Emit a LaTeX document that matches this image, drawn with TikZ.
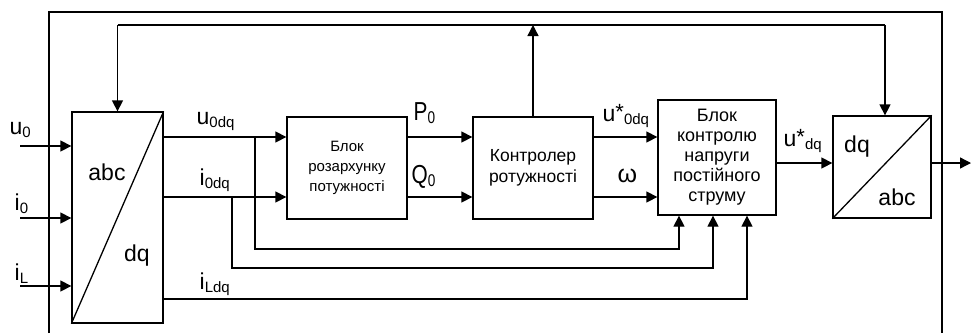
\documentclass[tikz,border=0pt]{standalone}
\usepackage{fontspec}
\setmainfont{Liberation Sans}
\usetikzlibrary{arrows.meta}

% signal name: letter, raised mark, subscript
\newcommand{\sig}[3]{{\fontsize{23}{25}\selectfont #1}%
  \raisebox{2pt}{\fontsize{22}{22}\selectfont #2}%
  \raisebox{-3pt}{\fontsize{15}{16}\selectfont #3}}
% tall narrow letters of P0, Q0
\newcommand{\pq}[1]{\scalebox{0.8}[1]{{\fontsize{26}{27}\selectfont #1}%
  \raisebox{-3pt}{\fontsize{17}{18}\selectfont 0}}}

\begin{document}
\begin{tikzpicture}[
  x=1pt, y=-1pt,
  line width=1.3pt,
  blk/.style={draw, line width=1.3pt, align=center, inner sep=2pt},
  txt/.style={font=\fontsize{23}{25}\selectfont, inner sep=0pt},
  lbl/.style={anchor=base west, inner sep=0pt},
  arr/.style={-{Triangle[length=11pt, width=11pt]}},
]
  \useasboundingbox (0,0) rectangle (972,333);

  % outer frame, open at the bottom
  \draw (49,333) -- (49,12) -- (942,12) -- (942,333);

  % abc -> dq
  \node[blk, minimum width=91pt, minimum height=211pt] (abc) at (117.5,217.5) {};
  \draw (abc.south west) -- (abc.north east);
  \node[txt] (abct) at (107,172) {abc};
  \node[txt] (abcq) at (137,256) {dq};

  \node[blk, minimum width=120pt, minimum height=102pt,
        font=\fontsize{15}{20}\selectfont] (pwr) at (347,168)
    {Блок\\розархунку\\потужності};

  \node[blk, minimum width=120pt, minimum height=102pt,
        font=\fontsize{17.5}{21}\selectfont] (ctl) at (533,168)
    {Контролер\\ротужності};

  \node[blk, minimum width=118pt, minimum height=115pt,
        font=\fontsize{18}{20}\selectfont] (dcv) at (717,157.5)
    {Блок\\контролю\\напруги\\постійного\\струму};

  % dq -> abc
  \node[blk, minimum width=98pt, minimum height=102pt] (inv) at (882,167) {};
  \draw (inv.south west) -- (inv.north east);
  \node[txt] (invd) at (857,147) {dq};
  \node[txt] (inva) at (897,197) {abc};

  % signal levels
  \coordinate (yu) at (0,137);
  \coordinate (yi) at (0,197);
  \coordinate (yl) at (0,299);
  \coordinate (ys) at (0,163);
  \coordinate (fbl) at (117.5,25);
  \coordinate (fbr) at (885,25);
  \coordinate (out) at (971,163);

  % inputs
  \coordinate (inu) at (20,146);
  \coordinate (ini) at (20,218);
  \coordinate (inl) at (20,286);
  \draw[arr] (inu) -- (inu -| abc.west);
  \draw[arr] (ini) -- (ini -| abc.west);
  \draw[arr] (inl) -- (inl -| abc.west);
  \node[lbl] (lu) at (9,134) {\sig{u}{}{0}};
  \node[lbl] (li) at (14,210) {\sig{i}{}{0}};
  \node[lbl] (ll) at (14,280) {\sig{i}{}{L}};

  % abc/dq outputs
  \draw[arr] (abc.east |- yu) -- (pwr.west |- yu);
  \draw[arr] (abc.east |- yi) -- (pwr.west |- yi);
  \node[lbl] (lud) at (196,124) {\sig{u}{}{0dq}};
  \node[lbl] (lid) at (199,185) {\sig{i}{}{0dq}};
  \node[lbl] (lld) at (199,289) {\sig{i}{}{Ldq}};

  % branches down to the dc block
  \draw[arr] (255,137) |- (679,249) -- (dcv.south -| 679,0);
  \draw[arr] (232,197) |- (713,268) -- (dcv.south -| 713,0);
  \draw[arr] (abc.east |- yl) -| (dcv.south -| 747,0);

  % power calculation -> controller
  \draw[arr] (pwr.east |- yu) -- (ctl.west |- yu);
  \draw[arr] (pwr.east |- yi) -- (ctl.west |- yi);
  \node[lbl] (lp) at (413,120) {\pq{P}};
  \node[lbl] (lq) at (411,183) {\pq{Q}};

  % controller -> dc block
  \draw[arr] (ctl.east |- yu) -- (dcv.west |- yu);
  \draw[arr] (ctl.east |- yi) -- (dcv.west |- yi);
  \node[lbl] (lus) at (602,121) {\sig{u}{*}{0dq}};
  \node[lbl] (lw) at (617,182) {{\fontsize{25}{26}\selectfont ω}};

  % dc block -> dq/abc -> out
  \draw[arr] (dcv.east |- ys) -- (inv.west |- ys);
  \node[lbl] (lusd) at (783,146) {\sig{u}{*}{dq}};
  \draw[arr] (inv.east |- ys) -- (out);

  % angle feedback over the top
  \draw (fbl) -- (fbr);
  \draw[arr] (fbl) -- (abc.north);
  \draw[arr] (fbr) -- (fbr |- inv.north);
  \draw[arr] (ctl.north) -- (ctl.north |- fbl);
\end{tikzpicture}
\end{document}
